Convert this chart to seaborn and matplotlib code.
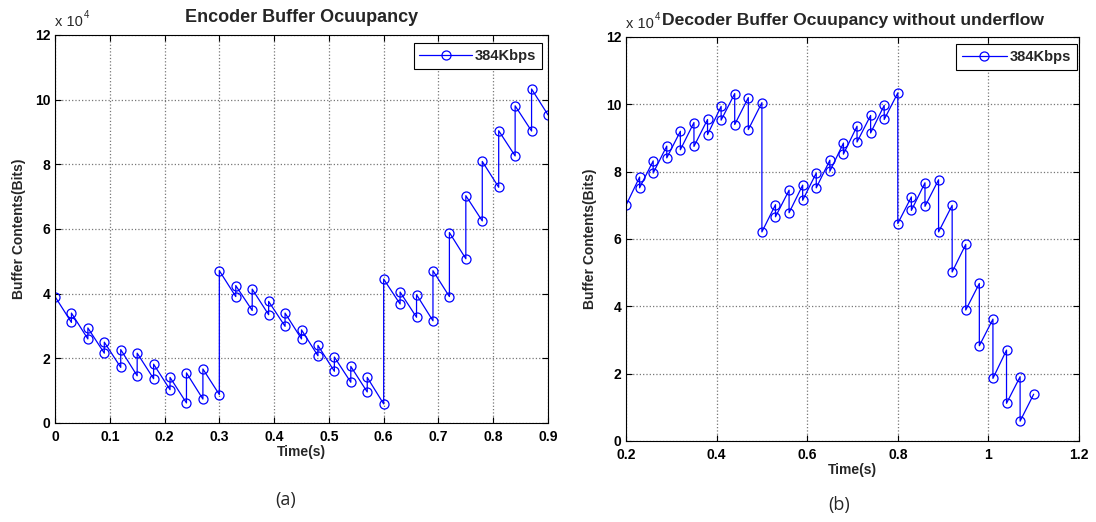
import matplotlib
matplotlib.use("Agg")
import matplotlib.pyplot as plt
import numpy as np
import pandas as pd
import seaborn as sns

# Encoder buffer (x 10^4 bits): time stamps repeat at each frame jump
enc_time = [0.00,
            0.03, 0.03, 0.06, 0.06, 0.09, 0.09, 0.12, 0.12, 0.15, 0.15,
            0.18, 0.18, 0.21, 0.21, 0.24, 0.24, 0.27, 0.27, 0.30, 0.30,
            0.33, 0.33, 0.36, 0.36, 0.39, 0.39, 0.42, 0.42, 0.45, 0.45,
            0.48, 0.48, 0.51, 0.51, 0.54, 0.54, 0.57, 0.57, 0.60, 0.60,
            0.63, 0.63, 0.66, 0.66, 0.69, 0.69, 0.72, 0.72, 0.75, 0.75,
            0.78, 0.78, 0.81, 0.81, 0.84, 0.84, 0.87, 0.87, 0.90]
enc_bits = [3.91,
            3.11, 3.40, 2.60, 2.94, 2.16, 2.50, 1.72, 2.27, 1.46, 2.16,
            1.37, 1.82, 1.03, 1.41, 0.62, 1.55, 0.74, 1.67, 0.88, 4.71,
            3.91, 4.25, 3.48, 4.14, 3.35, 3.76, 2.99, 3.40, 2.60, 2.88,
            2.08, 2.40, 1.60, 2.04, 1.26, 1.75, 0.96, 1.41, 0.59, 4.45,
            3.68, 4.05, 3.27, 3.97, 3.16, 4.71, 3.91, 5.89, 5.08, 7.03,
            6.25, 8.09, 7.29, 9.04, 8.26, 9.81, 9.03, 10.33, 9.53]

# Decoder buffer (x 10^4 bits)
dec_time = [0.20,
            0.23, 0.23, 0.26, 0.26, 0.29, 0.29, 0.32, 0.32, 0.35, 0.35,
            0.38, 0.38, 0.41, 0.41, 0.44, 0.44, 0.47, 0.47, 0.50, 0.50,
            0.53, 0.53, 0.56, 0.56, 0.59, 0.59, 0.62, 0.62, 0.65, 0.65,
            0.68, 0.68, 0.71, 0.71, 0.74, 0.74, 0.77, 0.77, 0.80, 0.80,
            0.83, 0.83, 0.86, 0.86, 0.89, 0.89, 0.92, 0.92, 0.95, 0.95,
            0.98, 0.98, 1.01, 1.01, 1.04, 1.04, 1.07, 1.07, 1.10]
dec_bits = [7.00,
            7.84, 7.52, 8.32, 7.96, 8.76, 8.41, 9.20, 8.65, 9.46, 8.75,
            9.55, 9.10, 9.94, 9.53, 10.32, 9.40, 10.20, 9.25, 10.05, 6.21,
            7.02, 6.66, 7.45, 6.78, 7.60, 7.15, 7.96, 7.52, 8.34, 8.01,
            8.85, 8.52, 9.35, 8.88, 9.67, 9.15, 9.97, 9.55, 10.34, 6.46,
            7.25, 6.85, 7.67, 6.97, 7.76, 6.21, 7.00, 5.02, 5.84, 3.89,
            4.68, 2.83, 3.62, 1.86, 2.70, 1.12, 1.91, 0.59, 1.39]

series_label = "384Kbps"
enc_xticks = [0, 0.1, 0.2, 0.3, 0.4, 0.5, 0.6, 0.7, 0.8, 0.9]
enc_xlabels = ["0", "0.1", "0.2", "0.3", "0.4", "0.5", "0.6", "0.7", "0.8", "0.9"]
dec_xticks = [0.2, 0.4, 0.6, 0.8, 1.0, 1.2]
dec_xlabels = ["0.2", "0.4", "0.6", "0.8", "1", "1.2"]
yticks = [0, 2, 4, 6, 8, 10, 12]

sns.set_style("ticks")
plt.rcParams["font.family"] = ["Liberation Sans", "DejaVu Sans"]
plt.rcParams["font.weight"] = "bold"

W, H = 1096, 522


def draw_panel(ax, t, b, title, title_size, xticks, xlabels, xlim,
               leg_box, leg_len, caption, cap_xy):
    df = pd.DataFrame({"t": t, "b": b})
    sns.lineplot(data=df, x="t", y="b", ax=ax, sort=False, estimator=None,
                 color="blue", linewidth=0.9, marker="o", markersize=6.5,
                 markerfacecolor="none", markeredgecolor="blue",
                 markeredgewidth=0.9, label=series_label)
    ax.set_xlim(xlim)
    ax.set_ylim(0, 12)
    ax.set_xticks(xticks)
    ax.set_xticklabels(xlabels)
    ax.set_yticks(yticks)
    ax.tick_params(direction="in", top=True, right=True, length=4,
                   labelsize=10, width=0.8, colors="black")
    ax.tick_params(axis="x", pad=5)
    for lab in ax.get_xticklabels() + ax.get_yticklabels():
        lab.set_fontweight("bold")
    ax.grid(True, linestyle=":", color="#777777", linewidth=0.9)
    for sp in ax.spines.values():
        sp.set_color("black")
        sp.set_linewidth(0.8)
    ax.set_title(title, fontsize=title_size, fontweight="bold", pad=9)
    ax.set_xlabel("Time(s)", fontsize=10, fontweight="bold", labelpad=1)
    ax.set_ylabel("Buffer Contents(Bits)", fontsize=10, fontweight="bold",
                  labelpad=6)
    # MATLAB-style exponent label
    ax.annotate("x 10", xy=(0, 1), xycoords="axes fraction",
                xytext=(0, 4), textcoords="offset points",
                fontsize=10.5, fontweight="normal", va="bottom", ha="left")
    ax.annotate("4", xy=(0, 1), xycoords="axes fraction",
                xytext=(20.5, 10.5), textcoords="offset points",
                fontsize=7, fontweight="normal", va="bottom", ha="left")
    pos = ax.get_position()
    ax_w, ax_h = pos.width * W, pos.height * H
    x_right = (leg_box[0] - pos.x0 * W) / ax_w
    y_top = ((1 - pos.y0) * H - leg_box[1]) / ax_h
    leg = ax.legend(loc="upper right", fancybox=False, edgecolor="black",
                    framealpha=1, handlelength=leg_len, handletextpad=0.2,
                    borderpad=0.4, borderaxespad=0,
                    prop={"size": 10.5, "weight": "bold"},
                    bbox_to_anchor=(x_right, y_top))
    leg.get_frame().set_linewidth(0.8)
    ax.figure.text(cap_xy[0] / W, 1 - cap_xy[1] / H, caption,
                   ha="center", va="center", fontsize=13,
                   fontweight="normal", family="Open Sans")


fig = plt.figure(figsize=(W / 100, H / 100), dpi=100)
ax1 = fig.add_axes([55 / W, 1 - 423 / H, 493 / W, 388 / H])
ax2 = fig.add_axes([626 / W, 1 - 441 / H, 453 / W, 404 / H])

draw_panel(ax1, enc_time, enc_bits, "Encoder Buffer Ocuupancy", 13,
           enc_xticks, enc_xlabels, (0, 0.9), (542, 43), 3.6,
           "(a)", (286, 500))
draw_panel(ax2, dec_time, dec_bits,
           "Decoder Buffer Ocuupancy without underflow", 12.6,
           dec_xticks, dec_xlabels, (0.2, 1.2), (1077, 44), 3.1,
           "(b)", (839, 505))

fig.savefig("out.png", dpi=100)
